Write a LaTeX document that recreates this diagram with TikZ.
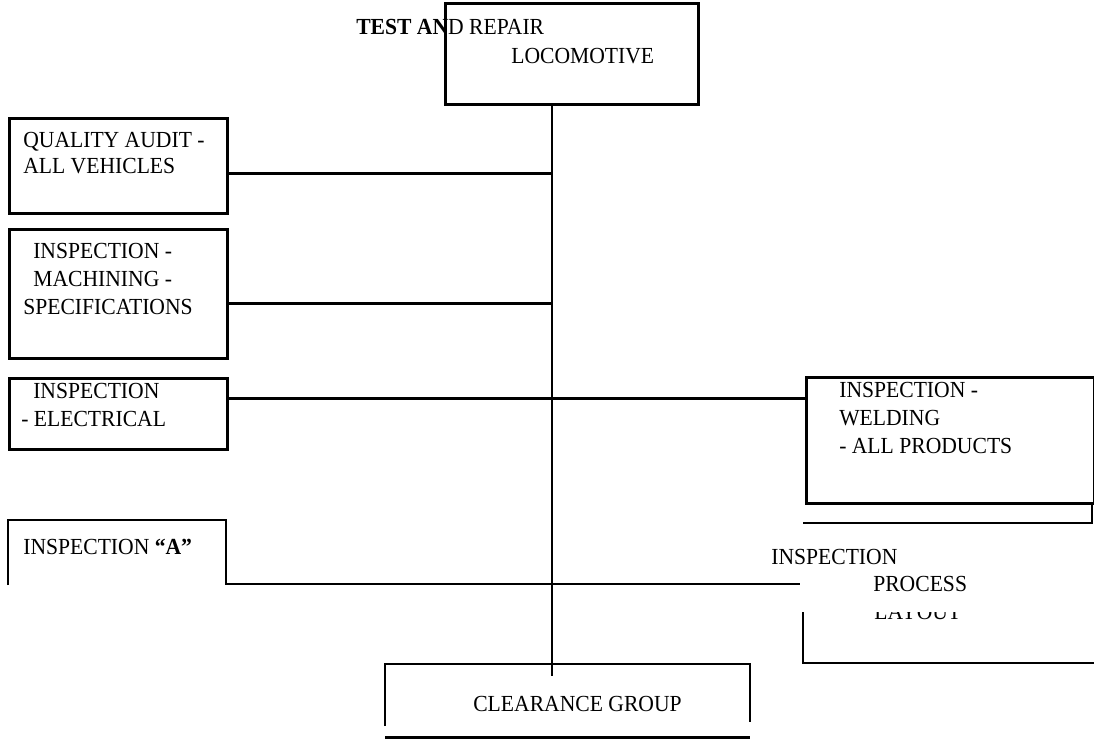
\documentclass[tikz,border=0pt]{standalone}
\usepackage{fontspec}
\setmainfont{Liberation Serif}[FakeStretch=0.94]

\begin{document}
\begin{tikzpicture}[x=0.5pt,y=-0.5pt,line width=1.3pt,
    box/.style={draw,anchor=north west,inner sep=0pt},
    txt/.style={anchor=north west,inner sep=0pt,align=left,font=\fontsize{11.5}{14}\selectfont}]
    \useasboundingbox (0,0) rectangle (1094,739);

    \node[box,minimum width=126.5pt,minimum height=50.5pt] (top) at (444,2) {};
    \node[txt] (title) at (355,18) {\textbf{TEST AN}D REPAIR};
    \node[txt] (loco) at (510,47) {LOCOMOTIVE};

    \node[box,minimum width=109pt,minimum height=47.5pt] (audit) at (8,117) {};
    \node[txt] (audittxt) at (22,131) {QUALITY AUDIT -\\[-1pt]ALL VEHICLES};

    \node[box,minimum width=109pt,minimum height=64.5pt] (mach) at (8,228) {};
    \node[txt] (machtxt) at (22,242) {\hspace*{5pt}INSPECTION -\\\hspace*{5pt}MACHINING -\\SPECIFICATIONS};

    \node[box,minimum width=109pt,minimum height=35.5pt] (elec) at (8,377) {};
    \node[txt] (electxt) at (20,382) {\hspace*{6pt}INSPECTION\\- ELECTRICAL};

    \node[box,minimum width=144pt,minimum height=63pt] (weld) at (805,376) {};
    \node[txt] (weldtxt) at (838,381) {INSPECTION -\\WELDING\\- ALL PRODUCTS};

    \node[txt] (insa) at (22,538) {INSPECTION \textbf{``A''}};
    \node[txt] (insp) at (770,548) {INSPECTION};
    \node[txt] (proc) at (872,575) {PROCESS};
    \begin{scope}
      \clip (860,612) rectangle (980,621);
      \node[txt] (layout) at (873,603) {LAYOUT};
    \end{scope}

    \node[txt] (clear) at (472,695) {CLEARANCE GROUP};

    % trunk and branches
    \coordinate (bus) at (552,676);
    \draw (top.south -| bus) -- (bus);
    \draw (audit.-4) -- (audit.-4 -| bus);
    \draw (mach.-5) -- (mach.-5 -| bus);
    \draw (elec.8) -- (elec.8 -| weld.west);

    % open frames
    \coordinate (acorner) at (226,584);
    \coordinate (pcorner) at (800,584);
    \draw (8,585) -- (8,520) -- (226,520) -- (acorner) -- (pcorner);
    \draw (803,523) -- (1092,523) -- (1092,502);
    \draw (803,612) -- (803,663) -- (1094,663);
    \draw (385,726) -- (385,664) -- (750,664) -- (750,722);
    \draw[line width=1.8pt] (385,738) -- (750,738);
  \end{tikzpicture}
\end{document}
